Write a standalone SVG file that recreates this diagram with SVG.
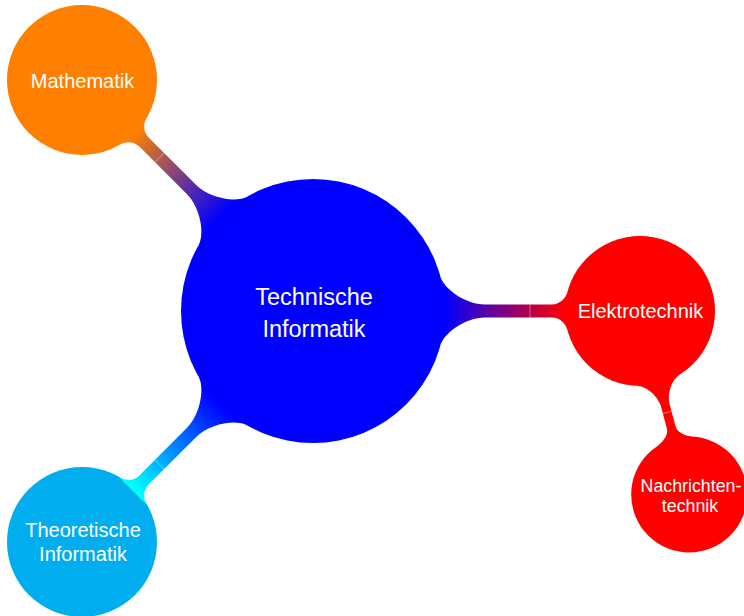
<svg xmlns="http://www.w3.org/2000/svg" width="744" height="616" viewBox="0 0 744 616">
  <style>
    .label { font-family: "Liberation Sans", Arial, sans-serif; fill: #ffffff; text-anchor: middle; }
    .l0 { font-size: 23.5px; }
    .l1 { font-size: 20px; }
    .l2 { font-size: 17.8px; }
    .seam { stroke: #ffffff; stroke-opacity: 0.5; stroke-width: 0.8; fill: none; }
  </style>
  <defs>
    <!-- first-level bar, drawn along +x from the root centre (R=132, r=75, D=327) -->
    <path id="bar1" d="M127.5,-34.2 C130.6,-22.6 152,-6.5 172,-6.5 L239,-6.5 C247,-6.5 252.8,-12.6 254.6,-19.4 L254.6,19.4 C252.8,12.6 247,6.5 239,6.5 L172,6.5 C152,6.5 130.6,22.6 127.5,34.2 Z"/>
    <!-- second-level bar (R=75, r=58, D=190) -->
    <path id="bar2" d="M71.7,-21.9 C74.6,-12.3 88,-4.5 97,-4.5 L121,-4.5 C127,-4.5 132.9,-12.2 134.8,-17.9 L134.8,17.9 C132.9,12.2 127,4.5 121,4.5 L97,4.5 C88,4.5 74.6,12.3 71.7,21.9 Z"/>
    <linearGradient id="gMath" gradientUnits="userSpaceOnUse" x1="132" y1="0" x2="252" y2="0">
      <stop offset="0" stop-color="#0000ff"/>
      <stop offset="1" stop-color="#ff8000"/>
    </linearGradient>
    <linearGradient id="gElek" gradientUnits="userSpaceOnUse" x1="132" y1="0" x2="252" y2="0">
      <stop offset="0" stop-color="#0000ff"/>
      <stop offset="1" stop-color="#ff0000"/>
    </linearGradient>
    <linearGradient id="gTheo" gradientUnits="userSpaceOnUse" x1="132" y1="0" x2="252" y2="0">
      <stop offset="0" stop-color="#0000ff"/>
      <stop offset="1" stop-color="#00ffff"/>
    </linearGradient>
  </defs>

  <g id="node-technische-informatik">
    <circle cx="313" cy="311" r="132" fill="#0000ff"/>
    <text class="label l0" x="314" y="305">Technische</text>
    <text class="label l0" x="314" y="337">Informatik</text>
  </g>
  <g id="node-mathematik">
    <circle cx="82" cy="80" r="75" fill="#ff8000"/>
    <text class="label l1" x="82.5" y="88">Mathematik</text>
  </g>
  <g id="node-elektrotechnik">
    <circle cx="640" cy="311" r="75" fill="#ff0000"/>
    <text class="label l1" x="640.5" y="318">Elektrotechnik</text>
  </g>
  <g id="node-theoretische-informatik">
    <circle cx="82" cy="542" r="75" fill="#00aeef"/>
    <text class="label l1" x="83" y="537">Theoretische</text>
    <text class="label l1" x="83" y="561">Informatik</text>
  </g>
  <g id="node-nachrichtentechnik">
    <circle cx="689.2" cy="494.5" r="58" fill="#ff0000"/>
    <text class="label l2" x="691" y="492">Nachrichten-</text>
    <text class="label l2" x="690" y="512">technik</text>
  </g>

  <g id="connectors">
    <g transform="translate(313,311) rotate(225)">
      <use href="#bar1" fill="url(#gMath)"/>
      <line class="seam" x1="217" y1="-6.5" x2="217" y2="6.5"/>
    </g>
    <g transform="translate(313,311)">
      <use href="#bar1" fill="url(#gElek)"/>
      <line class="seam" x1="217" y1="-6.5" x2="217" y2="6.5"/>
    </g>
    <g transform="translate(313,311) rotate(135)">
      <use href="#bar1" fill="url(#gTheo)"/>
      <line class="seam" x1="217" y1="-6.5" x2="217" y2="6.5"/>
    </g>
    <g transform="translate(640,311) rotate(75)">
      <use href="#bar2" fill="#ff0000"/>
      <line class="seam" x1="105" y1="-4.5" x2="105" y2="4.5"/>
    </g>
  </g>
</svg>
